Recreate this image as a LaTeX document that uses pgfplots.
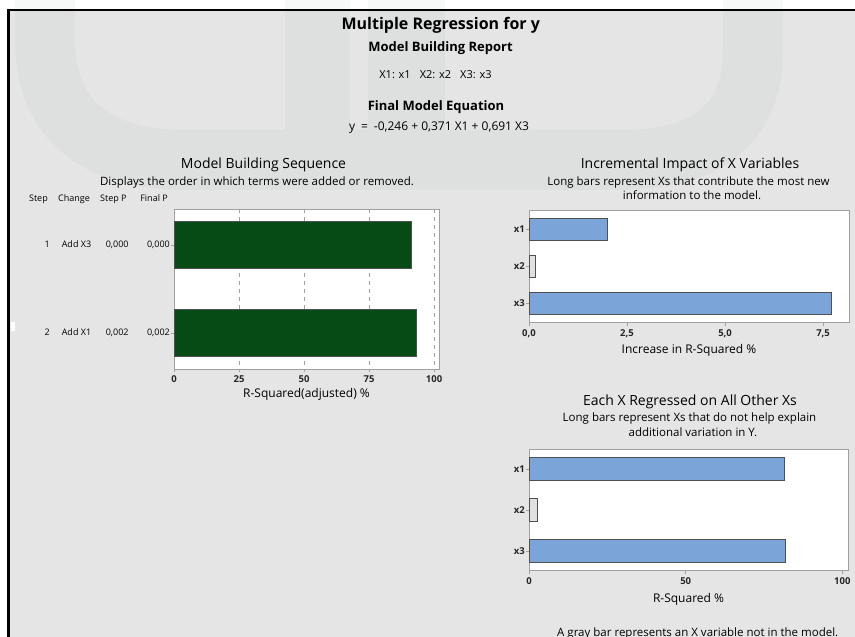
\documentclass[border=0pt]{standalone}
\usepackage{fontspec}
\setmainfont{Open Sans}
\usepackage{pgfplots}
\pgfplotsset{compat=1.18}

\definecolor{bg}{RGB}{229,229,229}
\definecolor{mgreen}{RGB}{6,74,22}
\definecolor{mblue}{RGB}{123,165,216}
\definecolor{mgray}{RGB}{224,224,224}
\definecolor{medge}{RGB}{80,80,80}
\definecolor{frame}{RGB}{160,160,160}
\definecolor{wm}{RGB}{60,100,85}

% one row of the step table, fixed column widths
\newcommand{\steprow}[4]{\makebox[8pt][r]{#1}\hspace{12pt}\makebox[44pt][l]{#2}\makebox[42pt][l]{#3}\makebox[22pt][r]{#4}}
\newcommand{\fs}[1]{\fontsize{#1}{#1}\selectfont}

\pgfplotsset{
  mtb/.style={
    scale only axis, anchor=south west,
    axis background/.style={fill=white},
    axis line style={frame, line width=0.8pt},
    xbar, bar shift=0pt, y dir=reverse,
    tick align=outside, major tick length=3pt,
    tick style={frame, line width=0.6pt},
    xtick pos=left, ytick pos=left,
    tick label style={font=\bfseries\fs{9.5}, text=black!85},
    yticklabel style={inner sep=1pt},
    /pgf/number format/assume math mode=true,
    xlabel style={font=\fs{12}, at={(axis description cs:0.5,0)}, anchor=base},
    every axis plot/.append style={draw=medge, line width=1pt},
  },
}

\begin{document}
\begin{tikzpicture}[x=1pt,y=1pt]
\useasboundingbox (0,0) rectangle (855,637);
\clip (0,0) rectangle (855,637);
\fill[white] (0,0) rectangle (855,637);
\fill[bg] (9,0) rectangle (855,626.5);

% faint watermark
\begin{scope}[opacity=0.04]
\draw[wm, line width=60pt] (45,642) -- (45,597) .. controls (45,507) and (110,477) .. (185,477)
  -- (620,477) .. controls (700,477) and (753,507) .. (753,587) -- (753,642);
\fill[wm] (285,637) rectangle (350,507);
\fill[wm] (368,637) rectangle (445,507);
\end{scope}

% frame of the report
\draw[black, line width=2pt] (8,626.5) -- (855,626.5);
\draw[black, line width=3pt] (8.5,627.5) -- (8.5,0);
\fill[white] (10.5,315) rectangle (15,306);

% headings
\node[anchor=base, inner sep=0] at (440.8,637-29.5) {\bfseries\fs{16}Multiple Regression for y};
\node[anchor=base, inner sep=0] at (440.5,637-51.5) {\bfseries\fs{13}Model Building Report};
\node[anchor=base, inner sep=0] at (435.5,637-79) {\fs{11}X1: x1\hspace{9pt}X2: x2\hspace{9pt}X3: x3};
\node[anchor=base, inner sep=0] at (436,637-111) {\bfseries\fs{13}Final Model Equation};
\node[anchor=base, inner sep=0] at (439,637-131) {\fs{12}y\hspace{6pt}=\hspace{6pt}-0,246 + 0,371 X1 + 0,691 X3};

\node[anchor=base, inner sep=0] at (263.5,637-169) {\fs{14}Model Building Sequence};
\node[anchor=base, inner sep=0] at (257,637-186) {\fs{11.5}Displays the order in which terms were added or removed.};
\begin{scope}[every node/.style={inner sep=0, font=\fs{9}}]
\node[anchor=base east] at (48,637-202) {Step};
\node[anchor=base west] at (58,637-202) {Change};
\node[anchor=base west] at (100,637-202) {Step P};
\node[anchor=base east] at (168,637-202) {Final P};
\end{scope}

\node[anchor=base, inner sep=0] at (690,637-169) {\fs{14}Incremental Impact of X Variables};
\node[anchor=base, inner sep=0] at (688.5,637-186) {\fs{11.5}Long bars represent Xs that contribute the most new};
\node[anchor=base, inner sep=0] at (692,637-200) {\fs{11.5}information to the model.};

\node[anchor=base, inner sep=0] at (690,637-406) {\fs{14}Each X Regressed on All Other Xs};
\node[anchor=base, inner sep=0] at (689.5,637-422) {\fs{11.5}Long bars represent Xs that do not help explain};
\node[anchor=base, inner sep=0] at (693,637-437) {\fs{11.5}additional variation in Y.};
\node[anchor=base west, inner sep=0] at (557,637-636.5) {\fs{11.5}A gray bar represents an X variable not in the model.};

% model building sequence
\begin{axis}[mtb,
  at={(174pt,268pt)}, width=265pt, height=160pt,
  xmin=0, xmax=101.9, ymin=0.59, ymax=2.41,
  xtick={0,25,50,75,100}, ytick={1,2},
  yticklabels={{\steprow{1}{Add X3}{0,000}{0,000}},{\steprow{2}{Add X1}{0,002}{0,002}}},
  yticklabel style={font=\fs{9}, text=black},
  xmajorgrids, grid style={frame, line width=0.8pt, dash pattern=on 4pt off 4pt},
  xlabel={R-Squared(adjusted) \%}, xlabel style={yshift=-29pt},
  bar width=0.534,
]
\addplot[fill=mgreen] coordinates {(91.5,1) (93.1,2)};
\end{axis}

% incremental impact
\begin{axis}[mtb,
  at={(529pt,314.3pt)}, width=320pt, height=112pt,
  xmin=0, xmax=8.16, ymin=0.5, ymax=3.53,
  xtick={0,2.5,5,7.5}, ytick={1,2,3}, yticklabels={x1,x2,x3},
  xticklabel style={/pgf/number format/.cd, fixed, fixed zerofill, precision=1, use comma},
  xlabel={Increase in R-Squared \%}, xlabel style={yshift=-31.3pt},
  bar width=0.6,
]
\addplot[fill=mblue, bar shift=0pt] coordinates {(2.0,1) (7.71,3)};
\addplot[fill=mgray, bar shift=0pt] coordinates {(0.16,2)};
\end{axis}

% each X regressed on the others
\begin{axis}[mtb,
  at={(529pt,66.3pt)}, width=319pt, height=121.7pt,
  xmin=0, xmax=101.8, ymin=0.51, ymax=3.48,
  xtick={0,50,100}, ytick={1,2,3}, yticklabels={x1,x2,x3},
  xlabel={R-Squared \%}, xlabel style={yshift=-32.3pt},
  bar width=0.56,
]
\addplot[fill=mblue, bar shift=0pt] coordinates {(81.6,1) (82.0,3)};
\addplot[fill=mgray, bar shift=0pt] coordinates {(2.66,2)};
\end{axis}
\end{tikzpicture}
\end{document}
